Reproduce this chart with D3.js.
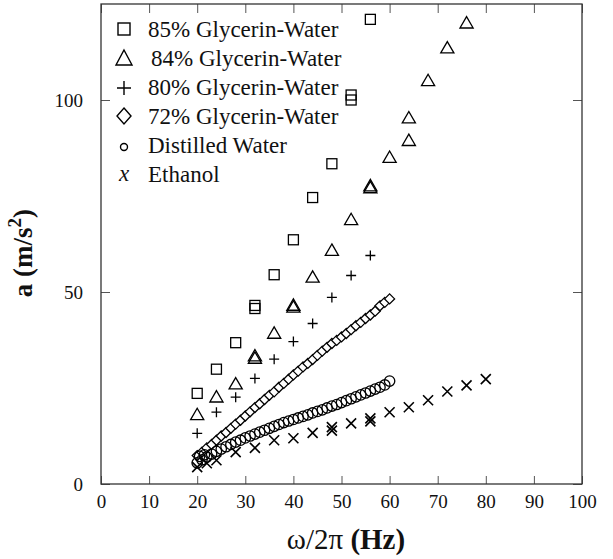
<!DOCTYPE html>
<html><head><meta charset="utf-8">
<script src="https://cdn.jsdelivr.net/npm/d3@7"></script>
<style>body{margin:0;background:#fff}svg{display:block}
text{font-family:"Liberation Serif","Tinos","Times New Roman","DejaVu Serif",serif}</style>
</head><body>
<svg id="c" width="613" height="559"></svg>
<script>
// ---- data ----
const xTicks = [0,10,20,30,40,50,60,70,80,90,100];
const yTicks = [0,50,100];
const seriesNames = ["85% Glycerin-Water","84% Glycerin-Water","80% Glycerin-Water","72% Glycerin-Water","Distilled Water","Ethanol"];

const g85x = [20,24,28,32,32,36,40,44,48,52,52,56];
const g85y = [23.6,29.9,36.8,45.7,46.5,54.5,63.6,74.6,83.4,100.0,101.3,121.0];

const g84x = [20,24,28,32,32,36,40,40,44,48,52,56,56,60,64,64,68,72,76];
const g84y = [18.0,22.6,26.0,32.7,33.3,39.2,46.0,46.5,53.8,60.8,68.8,77.1,77.6,85.0,89.4,95.3,105.0,113.5,120.0];

const g80x = [20,24,28,32,36,40,44,48,52,56];
const g80y = [13.2,18.7,22.6,27.5,32.5,37.1,41.8,48.6,54.3,59.5];

const g72x = [20,21,22,23,24,25,26,27,28,29,30,31,32,33,34,35,36,37,38,39,40,41,42,43,44,45,46,47,48,49,50,51,52,53,54,55,56,57,58,59,60];
const g72y = [7.4,8.3,9.4,10.3,11.4,12.5,13.4,14.5,15.6,16.6,17.7,18.8,19.9,20.9,22.0,23.1,24.0,25.2,26.2,27.3,28.4,29.4,30.5,31.4,32.4,33.5,34.6,35.6,36.6,37.4,38.3,39.2,40.2,41.2,42.1,43.1,44.0,45.0,46.4,47.3,48.2];

const waterX = [20,20.5,21,21.5,22,23,24,25,26,27,28,29,30,31,32,33,34,35,36,37,38,39,40,41,42,43,44,45,46,47,48,49,50,51,52,53,54,55,56,57,58,59,60];
const waterY = [5.5,7.2,6.3,7.6,7.0,7.8,8.5,9.1,9.7,10.3,10.9,11.4,12.0,12.5,13.0,13.5,14.0,14.5,15.0,15.5,16.0,16.4,16.8,17.2,17.6,18.0,18.5,18.9,19.3,19.8,20.3,20.7,21.2,21.7,22.2,22.7,23.2,23.7,24.2,24.7,25.2,25.8,26.8];

const ethX = [20,22,24,28,32,36,40,44,48,48,52,56,56,60,64,68,72,76,80];
const ethY = [4.4,5.4,6.2,8.3,9.4,11.4,11.9,13.3,14.8,13.9,15.8,17.1,16.3,18.7,20.0,21.8,24.1,25.7,27.3];

// ---- layout ----
const svg = d3.select("#c");
const L = 101, R = 582, T = 4, B = 484;
const x = d3.scaleLinear().domain([0,100]).range([L,R]);
const y = d3.scaleLinear().domain([0,125]).range([B,T]);
const serif = '"Liberation Serif","Tinos","Times New Roman","DejaVu Serif",serif';

// axes (ticks inward)
const tickCol = "#555";
const ax = svg.append("g").attr("transform",`translate(0,${B})`)
  .call(d3.axisBottom(x).tickValues(xTicks).tickSize(-8).tickPadding(14).tickFormat(d3.format("d")));
const axT = svg.append("g").attr("transform",`translate(0,${T})`)
  .call(d3.axisTop(x).tickValues(xTicks).tickSize(-9).tickFormat(""));
const ayL = svg.append("g").attr("transform",`translate(${L},0)`)
  .call(d3.axisLeft(y).tickValues(yTicks).tickSize(-9).tickPadding(18).tickFormat(d3.format("d")));
const ayR = svg.append("g").attr("transform",`translate(${R},0)`)
  .call(d3.axisRight(y).tickValues(yTicks).tickSize(-9).tickFormat(""));
[ax,axT,ayL,ayR].forEach(a=>{
  a.attr("font-family",null).attr("font-size",null);
  a.select(".domain").remove();
  a.selectAll(".tick line").attr("stroke",tickCol).attr("stroke-width",1);
  a.selectAll(".tick text").style("font-family",serif).attr("font-size",19).attr("fill","#111");
});
ax.selectAll(".tick text").attr("dy","0.55em");
ayL.selectAll(".tick text").attr("dy","0.35em");

// frame
svg.append("rect").attr("x",L).attr("y",T).attr("width",R-L).attr("height",B-T)
  .attr("fill","none").attr("stroke","#333").attr("stroke-width",1.3);

// axis titles
const xt = svg.append("text").attr("x",346).attr("y",549).attr("text-anchor","middle")
  .style("font-family",serif).attr("font-size",29).attr("fill","#111");
xt.append("tspan").text("ω/2π ");
xt.append("tspan").attr("font-weight","bold").text("(Hz)");

const yt = svg.append("text").attr("transform","translate(32,253) rotate(-90)").attr("text-anchor","middle")
  .style("font-family",serif).attr("font-size",27).attr("font-weight","bold").attr("fill","#111");
yt.append("tspan").text("a (m/s");
yt.append("tspan").attr("font-size",19).attr("dy",-11).text("2");
yt.append("tspan").attr("dy",11).text(")");

// ---- markers ----
const S = 5; // half size
const sw = 1.3;
const plot = svg.append("g").attr("fill","none").attr("stroke","#000").attr("stroke-width",sw);

function pts(xs,ys){ return xs.map((d,i)=>({x:d,y:ys[i]})); }

plot.selectAll(".sq").data(pts(g85x,g85y)).join("rect")
  .attr("x",d=>x(d.x)-S).attr("y",d=>y(d.y)-S).attr("width",2*S).attr("height",2*S);

const tri = d3.symbol().type(d3.symbolTriangle).size(75);
plot.selectAll(".tr").data(pts(g84x,g84y)).join("path")
  .attr("d",tri).attr("transform",d=>`translate(${x(d.x)},${y(d.y)+1})`);

plot.selectAll(".pl").data(pts(g80x,g80y)).join("path")
  .attr("d",`M${-S},0H${S}M0,${-S}V${S}`).attr("transform",d=>`translate(${x(d.x)},${y(d.y)})`);

plot.selectAll(".dm").data(pts(g72x,g72y)).join("path")
  .attr("d",`M0,${-S}L${S},0L0,${S}L${-S},0Z`).attr("fill","#fff")
  .attr("transform",d=>`translate(${x(d.x)},${y(d.y)})`);

plot.selectAll(".ci").data(pts(waterX,waterY)).join("circle")
  .attr("cx",d=>x(d.x)).attr("cy",d=>y(d.y)).attr("r",5.2);

plot.selectAll(".ex").data(pts(ethX,ethY)).join("path")
  .attr("d",`M${-S},${-S}L${S},${S}M${S},${-S}L${-S},${S}`).attr("stroke-width",1.6)
  .attr("transform",d=>`translate(${x(d.x)},${y(d.y)})`);

// ---- legend ----
const lg = svg.append("g");
const rowY = i => 29 + i*29;
const lx = 124;
lg.selectAll("text.lt").data(seriesNames).join("text")
  .attr("x",(d,i)=>i===1?151:148).attr("y",(d,i)=>rowY(i)).attr("dy","0.35em")
  .style("font-family",serif).attr("font-size",23).attr("fill","#111").text(d=>d);
const ls = lg.append("g").attr("fill","none").attr("stroke","#000").attr("stroke-width",1.4);
ls.append("rect").attr("x",lx-6).attr("y",rowY(0)-6).attr("width",12).attr("height",12);
ls.append("path").attr("d",`M${lx},${rowY(1)-8}L${lx+8},${rowY(1)+7}L${lx-8},${rowY(1)+7}Z`);
ls.append("path").attr("d",`M${lx-7},${rowY(2)+1}H${lx+7}M${lx},${rowY(2)-6}V${rowY(2)+8}`);
ls.append("path").attr("d",`M${lx},${rowY(3)-8}L${lx+7},${rowY(3)}L${lx},${rowY(3)+8}L${lx-7},${rowY(3)}Z`);
ls.append("circle").attr("cx",lx).attr("cy",rowY(4)+2).attr("r",3.5);
lg.append("text").attr("x",lx).attr("y",rowY(5)).attr("dy","0.3em").attr("text-anchor","middle")
  .style("font-family",serif).attr("font-style","italic").attr("font-size",23).attr("fill","#111").text("x");
</script>
</body></html>
